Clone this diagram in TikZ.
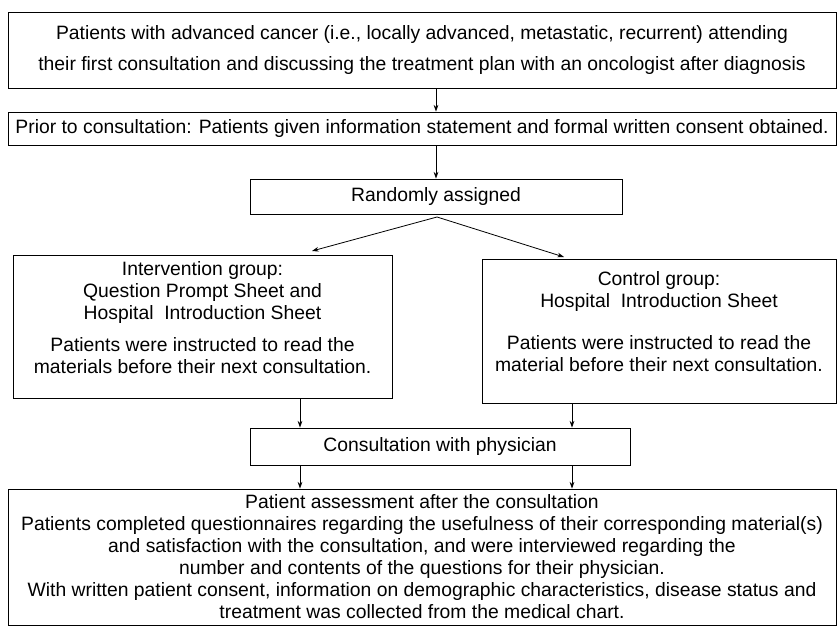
\documentclass[tikz,border=0pt]{standalone}
\usepackage{fontspec}
\setmainfont{Liberation Sans}
\usetikzlibrary{arrows.meta,positioning,calc}

\tikzset{
  box/.style={draw, line width=0.6pt, align=center, inner sep=0pt,
    font=\fontsize{14.5}{16.5}\selectfont},
  link/.style={-{Stealth[length=5pt,width=3.5pt]}, line width=0.6pt}
}

\begin{document}
\begin{tikzpicture}[x=0.75pt,y=-0.75pt]
    \useasboundingbox (0,0) rectangle (837,631);

    \node [box, minimum width=621pt, minimum height=57pt] (patients) at (422,50)
      {Patients with advanced cancer (i.e., locally advanced, metastatic, recurrent) attending\\[6.75pt]
       their first consultation and discussing the treatment plan with an oncologist after diagnosis};
    \node [box, minimum width=621pt, minimum height=24.75pt] (prior) at (422,128.5)
      {Prior to consultation: Patients given information statement and formal written consent obtained.};
    \node [box, minimum width=279pt, minimum height=26.25pt] (random) at (436,196.5)
      {Randomly assigned};
    \node [box, minimum width=284.25pt, minimum height=107.25pt] (interv) at (202.5,326.5)
      {Intervention group:\\Question Prompt Sheet and\\Hospital~ Introduction Sheet\\[7.5pt]
       Patients were instructed to read the\\materials before their next consultation.\\[-3.7pt]\mbox{}};
    \node [box, minimum width=265.5pt, minimum height=108pt] (control) at (659,331)
      {Control group:\\Hospital~ Introduction Sheet\\[15pt]
       Patients were instructed to read the\\material before their next consultation.\\[-2.2pt]\mbox{}};
    \node [box, minimum width=285pt, minimum height=27.75pt] (consult) at (440,446.5)
      {Consultation with physician};
    \node [box, minimum width=621pt, minimum height=102pt] (assess) at (422,557)
      {Patient assessment after the consultation\\
       Patients completed questionnaires regarding the usefulness of their corresponding material(s)\\
       and satisfaction with the consultation, and were interviewed regarding the\\
       number and contents of the questions for their physician.\\
       With written patient consent, information on demographic characteristics, disease status and\\
       treatment was collected from the medical chart.};

    % branch points and arrow columns
    \coordinate (split) at (437,217);
    \coordinate (lefttip) at (312,251);
    \coordinate (righttip) at (564,257);
    \coordinate (leftx) at (300,0);
    \coordinate (rightx) at (572,0);

    \draw [link] (random |- patients.south) -- (random |- prior.north);
    \draw [link] (random |- prior.south) -- (random.north);
    \draw [link] (split) -- (lefttip);
    \draw [link] (split) -- (righttip);
    \draw [link] (interv.south -| leftx) -- (consult.north -| leftx);
    \draw [link] (control.south -| rightx) -- (consult.north -| rightx);
    \draw [link] (consult.south -| leftx) -- (assess.north -| leftx);
    \draw [link] (consult.south -| rightx) -- (assess.north -| rightx);
  \end{tikzpicture}
\end{document}
